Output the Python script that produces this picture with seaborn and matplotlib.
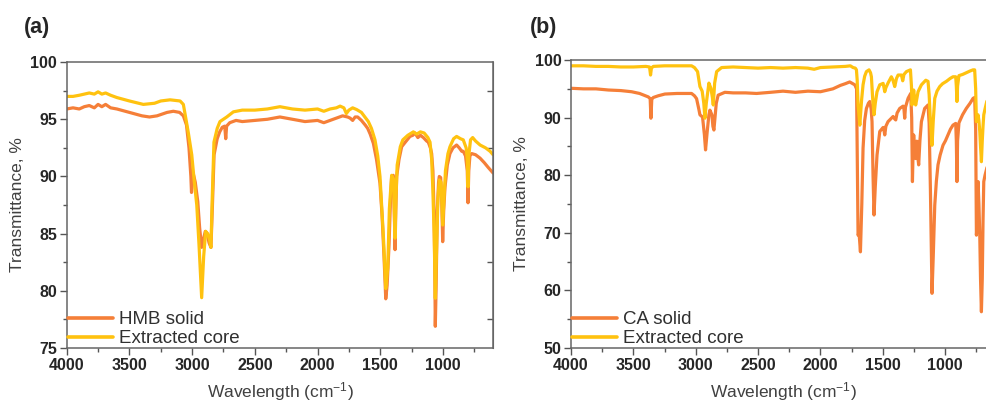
import numpy as np
import pandas as pd
import seaborn as sns
import matplotlib.pyplot as plt
from matplotlib.ticker import MultipleLocator

# ---- panel (a): HMB ----
wn_hmb = [4000, 3950, 3900, 3860, 3820, 3780, 3750, 3720, 3690, 3650, 3600, 3500, 3400, 3340,
          3280, 3200, 3150, 3100, 3070, 3045, 3025, 3010, 3005, 2998, 2990, 2975, 2955, 2940,
          2924, 2910, 2895, 2880, 2865, 2850, 2838, 2825, 2800, 2780, 2760, 2740, 2732, 2725,
          2700, 2650, 2600, 2500, 2400, 2300, 2200, 2100, 2000, 1950, 1900, 1850, 1800, 1760,
          1740, 1720, 1700, 1680, 1650, 1620, 1600, 1580, 1555, 1530, 1502, 1485, 1470, 1456,
          1445, 1430, 1418, 1409, 1396, 1388, 1382, 1376, 1369, 1350, 1329, 1300, 1263, 1240,
          1223, 1200, 1180, 1156, 1130, 1117, 1100, 1090, 1080, 1071, 1065, 1061, 1055, 1045,
          1035, 1029, 1018, 1010, 1002, 994, 984, 965, 944, 920, 891, 870, 850, 838, 820, 806,
          800, 794, 785, 771, 740, 704, 670, 640, 624, 600]
t_hmb = [95.9, 96.0, 95.9, 96.1, 96.2, 96.0, 96.3, 96.1, 96.3, 96.0, 95.9, 95.6, 95.3, 95.2,
         95.3, 95.6, 95.7, 95.6, 95.3, 94.5, 92.5, 90.0, 88.6, 89.5, 90.2, 89.5, 87.8, 85.5,
         83.8, 84.5, 85.2, 85.0, 84.2, 83.8, 87.5, 91.9, 93.3, 93.9, 94.3, 94.4, 93.3, 94.4,
         94.7, 94.9, 94.8, 94.9, 95.0, 95.2, 95.0, 94.8, 94.9, 94.7, 94.9, 95.1, 95.3, 95.2,
         95.1, 94.9, 95.2, 95.2, 94.9, 94.5, 94.2, 93.7, 92.9, 91.5, 89.4, 86.5, 83.0, 79.3,
         80.5, 84.0, 88.0, 90.0, 90.1, 87.0, 83.6, 87.0, 90.0, 91.5, 92.6, 93.0, 93.5, 93.6,
         93.8, 93.4, 93.6, 93.4, 93.1, 93.0, 92.5, 92.0, 90.5, 87.0, 82.0, 76.9, 80.0, 87.0,
         89.5, 90.0, 89.9, 88.0, 84.3, 87.0, 89.0, 91.0, 92.0, 92.5, 92.75, 92.5, 92.2, 92.2,
         91.8, 90.5, 87.7, 90.5, 91.8, 92.0, 91.9, 91.6, 91.2, 90.8, 90.6, 90.3]

wn_core_a = [4000, 3950, 3900, 3860, 3820, 3780, 3750, 3720, 3690, 3650, 3600, 3500, 3389, 3300,
             3250, 3176, 3096, 3070, 3057, 3030, 3003, 2985, 2963, 2945, 2924, 2908, 2892, 2876,
             2862, 2850, 2840, 2826, 2800, 2778, 2724, 2671, 2600, 2500, 2400, 2300, 2200, 2100,
             2000, 1950, 1900, 1850, 1820, 1790, 1770, 1750, 1720, 1688, 1650, 1595, 1570, 1542,
             1520, 1502, 1475, 1456, 1440, 1427, 1409, 1395, 1382, 1375, 1365, 1340, 1320, 1280,
             1236, 1210, 1180, 1150, 1120, 1103, 1090, 1081, 1070, 1061, 1050, 1040, 1029, 1015,
             1002, 994, 980, 960, 944, 915, 891, 860, 838, 815, 806, 800, 794, 780, 763, 740,
             704, 660, 624, 600]
t_core_a = [97.0, 97.0, 97.1, 97.2, 97.3, 97.2, 97.4, 97.2, 97.3, 97.1, 96.9, 96.6, 96.3, 96.4,
            96.6, 96.7, 96.6, 96.3, 95.5, 93.8, 91.9, 89.8, 87.5, 84.0, 79.4, 83.0, 85.2, 85.0,
            84.5, 83.8, 88.0, 93.0, 94.2, 94.8, 95.2, 95.65, 95.8, 95.8, 95.9, 96.1, 95.9, 95.8,
            95.9, 95.7, 95.9, 96.0, 96.15, 96.0, 95.5, 95.8, 96.0, 95.85, 95.6, 94.8, 94.2, 93.2,
            91.8, 90.0, 84.8, 80.2, 82.0, 87.2, 90.1, 89.8, 84.6, 88.0, 91.0, 92.6, 93.2, 93.6,
            93.9, 93.7, 93.9, 93.8, 93.4, 93.0, 91.5, 89.0, 85.0, 79.35, 84.0, 88.0, 89.7, 89.5,
            85.75, 87.5, 90.5, 92.0, 92.6, 93.3, 93.5, 93.3, 93.2, 92.5, 91.5, 89.1, 91.8, 93.2,
            93.4, 93.1, 92.75, 92.5, 92.2, 91.9]

# ---- panel (b): CA ----
wn_ca = [4000, 3900, 3800, 3700, 3600, 3514, 3450, 3380, 3365, 3359, 3352, 3340, 3300, 3247,
         3150, 3033, 3010, 2993, 2975, 2966, 2945, 2930, 2921, 2908, 2894, 2886, 2870, 2862,
         2854, 2845, 2835, 2820, 2766, 2700, 2600, 2512, 2400, 2300, 2200, 2100, 2000, 1900,
         1840, 1800, 1765, 1740, 1724, 1710, 1706, 1698, 1690, 1679, 1668, 1658, 1645, 1631,
         1615, 1604, 1593, 1586, 1578, 1570, 1560, 1546, 1524, 1497, 1490, 1484, 1475, 1458,
         1435, 1417, 1405, 1396, 1385, 1364, 1337, 1330, 1324, 1318, 1297, 1276, 1268, 1262,
         1257, 1252, 1244, 1236, 1230, 1225, 1218, 1212, 1202, 1190, 1164, 1137, 1128, 1118,
         1105, 1095, 1083, 1070, 1057, 1040, 1017, 997, 977, 957, 937, 915, 910, 905, 900, 889,
         860, 830, 800, 776, 763, 755, 749, 742, 736, 729, 722, 716, 709, 702, 696, 690, 680,
         666, 650, 630, 600]
t_ca = [95.1, 95.0, 95.0, 94.8, 94.7, 94.5, 94.2, 93.6, 93.3, 89.9, 93.2, 93.5, 93.8, 94.1,
        94.2, 94.2, 93.8, 93.3, 91.5, 90.5, 90.1, 87.0, 84.4, 87.5, 90.5, 91.3, 90.5, 88.5,
        87.85, 90.0, 92.5, 93.9, 94.4, 94.3, 94.3, 94.2, 94.4, 94.6, 94.4, 94.6, 94.5, 95.0,
        95.6, 95.9, 96.2, 95.9, 95.7, 95.0, 87.0, 69.6, 70.0, 66.7, 75.0, 84.7, 89.5, 91.6,
        92.5, 92.8, 91.5, 89.3, 80.0, 73.1, 78.0, 83.5, 87.6, 88.3, 87.8, 87.0, 88.5, 89.3,
        89.8, 90.2, 89.8, 89.6, 90.8, 91.6, 92.0, 91.5, 89.9, 91.8, 93.35, 94.2, 90.0, 78.9,
        84.0, 87.0, 84.0, 82.9, 85.9, 85.9, 83.0, 81.8, 86.0, 89.3, 91.6, 92.2, 89.0, 77.7,
        59.5, 66.0, 74.8, 79.0, 81.8, 83.5, 85.2, 86.0, 87.0, 88.0, 88.7, 89.0, 86.0, 78.9,
        86.0, 89.1, 90.5, 91.6, 92.5, 93.35, 93.5, 88.0, 69.6, 72.0, 78.9, 75.0, 69.5, 62.0,
        56.3, 62.0, 72.0, 78.9, 80.0, 81.2, 82.5, 83.5, 84.5]

wn_core_b = [4000, 3900, 3800, 3700, 3600, 3500, 3400, 3370, 3362, 3355, 3340, 3250, 3150, 3033,
             3010, 2985, 2966, 2948, 2935, 2926, 2915, 2894, 2878, 2866, 2859, 2848, 2832, 2792,
             2700, 2600, 2500, 2400, 2300, 2200, 2100, 2050, 2000, 1900, 1800, 1760, 1738, 1720,
             1711, 1705, 1698, 1684, 1670, 1658, 1645, 1631, 1610, 1598, 1591, 1580, 1570, 1560,
             1546, 1524, 1497, 1490, 1484, 1475, 1458, 1431, 1418, 1404, 1390, 1377, 1350, 1340,
             1330, 1310, 1278, 1270, 1265, 1258, 1252, 1245, 1236, 1225, 1217, 1190, 1155, 1137,
             1128, 1118, 1105, 1095, 1083, 1065, 1043, 1020, 990, 960, 937, 915, 910, 905, 900,
             889, 860, 830, 800, 776, 763, 755, 749, 742, 736, 729, 722, 716, 709, 702, 696, 690,
             680, 666, 650, 630, 600]
t_core_b = [99.0, 99.0, 98.9, 98.9, 98.8, 98.8, 98.9, 98.8, 97.4, 98.6, 98.9, 99.0, 99.0, 99.0,
            98.7, 98.0, 95.4, 94.6, 92.5, 89.9, 92.5, 96.0, 95.1, 93.5, 92.2, 96.0, 98.0, 98.7,
            98.8, 98.7, 98.6, 98.7, 98.6, 98.7, 98.6, 98.4, 98.7, 98.8, 98.9, 99.0, 98.7, 98.6,
            98.3, 96.5, 92.2, 88.7, 93.0, 95.7, 97.2, 98.0, 98.3, 97.8, 97.1, 93.0, 90.5, 92.5,
            94.5, 95.7, 95.95, 95.2, 94.5, 95.2, 96.0, 97.1, 96.5, 95.4, 96.8, 97.4, 97.4, 96.4,
            97.5, 98.0, 98.3, 95.5, 92.2, 93.5, 94.8, 93.5, 92.2, 93.5, 94.5, 95.7, 96.5, 96.3,
            94.0, 89.3, 85.2, 89.5, 93.35, 94.6, 95.4, 95.9, 96.3, 96.8, 97.1, 97.1, 95.5, 92.8,
            95.5, 97.3, 97.5, 97.8, 98.1, 98.3, 98.3, 95.0, 89.3, 89.8, 90.5, 89.5, 87.6, 85.0,
            82.35, 86.0, 88.5, 90.5, 91.5, 92.8, 93.5, 94.0, 94.5]

ORANGE = "#F57F38"
YELLOW = "#FFC20F"

sns.set_style("ticks")
plt.rcParams["font.family"] = ["Liberation Sans", "DejaVu Sans"]
plt.rcParams["mathtext.default"] = "regular"

fig = plt.figure(figsize=(9.87, 4.05), dpi=100)
ax_a = fig.add_axes([0.0676, 0.1407, 0.432, 0.706])
ax_b = fig.add_axes([0.5785, 0.1407, 0.4296, 0.711])


def draw_panel(ax, wn1, t1, lab1, wn2, t2, lab2, ylim, ymaj, ymin):
    d1 = pd.DataFrame({"wn": wn1, "T": t1})
    d2 = pd.DataFrame({"wn": wn2, "T": t2})
    sns.lineplot(data=d1, x="wn", y="T", ax=ax, color=ORANGE, lw=2.3,
                 estimator=None, sort=False, label=lab1)
    sns.lineplot(data=d2, x="wn", y="T", ax=ax, color=YELLOW, lw=2.3,
                 estimator=None, sort=False, label=lab2)
    ax.set_xlim(4000, 600)
    ax.set_ylim(*ylim)
    ax.xaxis.set_major_locator(MultipleLocator(500))
    ax.xaxis.set_minor_locator(MultipleLocator(250))
    ax.yaxis.set_major_locator(MultipleLocator(ymaj))
    ax.yaxis.set_minor_locator(MultipleLocator(ymin))
    ax.tick_params(which="major", length=5, width=1, color="#555555",
                   labelsize=11.5, pad=2)
    ax.tick_params(which="minor", length=3, width=1, color="#555555")
    for lbl in ax.get_xticklabels() + ax.get_yticklabels():
        lbl.set_fontweight("bold")
    for s in ax.spines.values():
        s.set_color("#666666")
        s.set_linewidth(1.1)
    ax.set_xlabel("Wavelength (cm$^{-1}$)", fontsize=12.5, color="#404040", labelpad=5)
    ax.set_ylabel("Transmittance, %", fontsize=12.5, color="#404040", labelpad=4)
    leg = ax.legend(loc="lower left", bbox_to_anchor=(0.0, 0.0), frameon=False,
                    fontsize=13.5, borderpad=0.0, borderaxespad=0.05, labelspacing=0.1,
                    handlelength=2.4, handletextpad=0.35)
    for txt in leg.get_texts():
        txt.set_color("#303030")
    for h in leg.get_lines():
        h.set_linewidth(2.6)


draw_panel(ax_a, wn_hmb, t_hmb, "HMB solid", wn_core_a, t_core_a, "Extracted core",
           (75, 100), 5, 2.5)
draw_panel(ax_b, wn_ca, t_ca, "CA solid", wn_core_b, t_core_b, "Extracted core",
           (50, 100), 10, 5)

# inward ticks on the right frame of panel (a)
sec = ax_a.secondary_yaxis("right")
sec.set_yticks([77.5, 82.5, 87.5, 92.5, 97.5])
sec.tick_params(direction="in", length=4, width=1, color="#555555", labelright=False)
sec.spines["right"].set_color("#666666")

fig.text(0.024, 0.933, "(a)", fontsize=15.5, fontweight="bold", va="center")
fig.text(0.537, 0.933, "(b)", fontsize=15.5, fontweight="bold", va="center")

fig.savefig("out.png", dpi=100)
